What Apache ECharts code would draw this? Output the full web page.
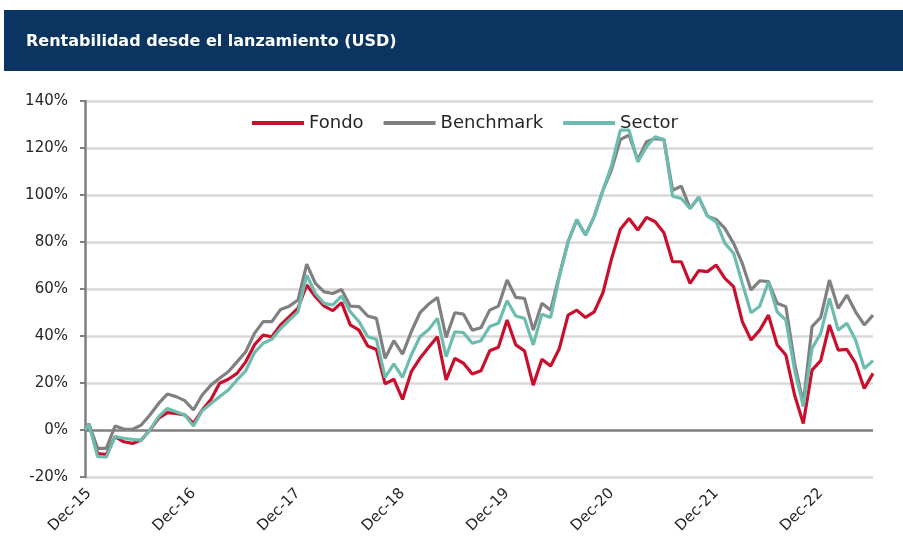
<!DOCTYPE html>
<html>
<head>
<meta charset="utf-8">
<script src="https://cdn.jsdelivr.net/npm/echarts@6/dist/echarts.min.js"></script>
<style>
  html, body { margin: 0; padding: 0; background: #fff; }
  #chart { width: 903px; height: 542px; }
</style>
</head>
<body>
<div id="chart"></div>
<script>
// year-end tick labels (month index 0, 12, 24 ...)
const tickLabels = ['Dec-15', 'Dec-16', 'Dec-17', 'Dec-18', 'Dec-19', 'Dec-20', 'Dec-21', 'Dec-22'];
// launch came a little before the first month-end close (Dec-15 = month 0)
const launchMonth = -0.45;

// first value = launch, then monthly Dec-15 .. Jun-23
const fondo = [0,
  2.5, -10, -10.5, -2.8, -5, -5.7, -4.3, 0, 5, 7.4, 7.1, 6.4,
  2.8, 8.5, 13, 19.9, 21.6, 24.1, 29, 36.2, 40.4, 39.7, 44.7, 48.2,
  51.8, 61.7, 56.7, 52.7, 50.8, 54.2, 44.7, 42.5, 35.7, 34.3, 19.6, 21.6,
  13, 24.8, 30.5, 35.2, 39.7, 21.3, 30.5, 28.4, 23.8, 25.2, 33.7, 35.2,
  46.8, 36.2, 33.7, 19.1, 30.1, 27.2, 34.7, 48.9, 51, 47.9, 50.3, 58.4,
  73, 85.4, 90, 85.1, 90.5, 88.6, 83.9, 71.6, 71.6, 62.4, 67.8, 67.4,
  70.2, 64.5, 61, 46.1, 38.3, 42.5, 48.9, 36.2, 31.9, 14.9, 2.8, 25.5,
  29.5, 44.7, 34, 34.3, 28.4, 17.7, 24.1
];
const benchmark = [0,
  2.5, -7.8, -7.8, 1.7, 0.4, 0.3, 2.1, 6.4, 11.3, 15.3, 14.2, 12.5,
  8.5, 14.9, 19.1, 22, 24.8, 29, 33.3, 41.1, 46.1, 46.1, 51.3, 52.7,
  55.3, 70.6, 62.4, 58.8, 58.1, 59.8, 52.7, 52.5, 48.5, 47.5, 30.5, 38,
  32.3, 41.8, 49.9, 53.6, 56.4, 39.4, 49.9, 49.3, 42.5, 43.5, 51, 52.7,
  63.8, 56.4, 56, 42.5, 53.9, 51, 65.9, 80.1, 89.3, 83, 90.8, 102,
  110.9, 123.6, 125.5, 114.9, 122.7, 124, 123.6, 102, 103.8, 94.3, 99, 91,
  89.6, 85.8, 79.4, 70.9, 59.6, 63.5, 63.1, 53.9, 52.5, 28.4, 11.3, 44,
  47.9, 63.8, 51.8, 57.4, 50.3, 44.7, 48.9
];
const sector = [0,
  2.5, -11.3, -11.5, -2.8, -3.5, -4, -4.3, 0, 5.7, 9.2, 7.8, 6.4,
  1.7, 8.2, 11.3, 14.2, 17, 21.3, 25.2, 32.9, 36.9, 38.6, 43.2, 46.8,
  50.3, 65.9, 58.1, 53.9, 53.2, 57, 50.3, 46.1, 39.7, 38.6, 22.4, 28.1,
  22.4, 31.9, 39.7, 42.8, 47.5, 31.2, 41.8, 41.4, 36.9, 38, 44, 45.4,
  55, 48.5, 47.5, 36.2, 49.3, 47.9, 65.2, 80.1, 89.6, 83, 90.8, 102,
  112.7, 127.6, 127.6, 114.1, 120.5, 124.8, 123.6, 99.5, 98.5, 94.3, 99, 91,
  88.6, 79.4, 75.2, 62.4, 49.9, 52.7, 63.1, 50.3, 46.8, 25.5, 9.9, 34.7,
  41.1, 56, 42.5, 45.4, 38.3, 26.2, 29.5
];

const seriesNames = ['Fondo', 'Benchmark', 'Sector'];
const seriesColors = ['#c8102e', '#808080', '#6cbdaf'];

function toPoints(values) {
  return values.map(function (v, i) {
    return [i === 0 ? launchMonth : i - 1, v];
  });
}

const FontFamily = '"DejaVu Sans", sans-serif';
const chart = echarts.init(document.getElementById('chart'), null, { renderer: 'canvas' });

var option = {
  backgroundColor: '#ffffff',
  animation: false,
  title: {
    text: 'Rentabilidad desde el lanzamiento (USD)',
    left: 21,
    top: 29,
    z: 10,
    textStyle: { color: '#ffffff', fontSize: 16, fontWeight: 'bold', fontFamily: FontFamily }
  },
  graphic: [{
    type: 'rect',
    z: 0,
    shape: { x: 4, y: 10, width: 899, height: 61 },
    style: { fill: '#0b3560' }
  }],
  legend: {
    top: 109,
    left: 247,
    itemWidth: 52,
    itemHeight: 4,
    itemGap: 20,
    icon: 'rect',
    textStyle: { fontSize: 18, color: '#262626', fontFamily: FontFamily },
    data: seriesNames
  },
  grid: { left: 85, right: 30, top: 101, bottom: 65 },
  xAxis: {
    type: 'value',
    min: launchMonth,
    max: 90,
    axisLine: { show: false },
    axisTick: { show: false },
    splitLine: { show: false },
    axisLabel: {
      customValues: [0, 12, 24, 36, 48, 60, 72, 84],
      rotate: 45,
      margin: 14,
      fontSize: 15,
      color: '#262626',
      fontFamily: FontFamily,
      formatter: function (v) { return tickLabels[Math.round(v / 12)]; }
    }
  },
  yAxis: {
    type: 'value',
    min: -20,
    max: 140,
    interval: 20,
    axisLine: { show: true, onZero: false, lineStyle: { color: '#7f7f7f', width: 2.5 } },
    axisTick: { show: true, length: 5, lineStyle: { color: '#7f7f7f', width: 2 } },
    axisLabel: {
      formatter: '{value}%',
      fontSize: 15,
      color: '#262626',
      margin: 17,
      fontFamily: FontFamily
    },
    splitLine: {
      lineStyle: {
        width: 2.5,
        color: ['#d9d9d9', '#7f7f7f', '#d9d9d9', '#d9d9d9', '#d9d9d9', '#d9d9d9', '#d9d9d9', '#d9d9d9', '#d9d9d9']
      }
    }
  },
  series: [fondo, benchmark, sector].map(function (vals, i) {
    return {
      name: seriesNames[i],
      type: 'line',
      data: toPoints(vals),
      symbol: 'none',
      color: seriesColors[i],
      lineStyle: { width: 3.2, color: seriesColors[i] }
    };
  })
};

chart.setOption(option);
</script>
</body>
</html>
